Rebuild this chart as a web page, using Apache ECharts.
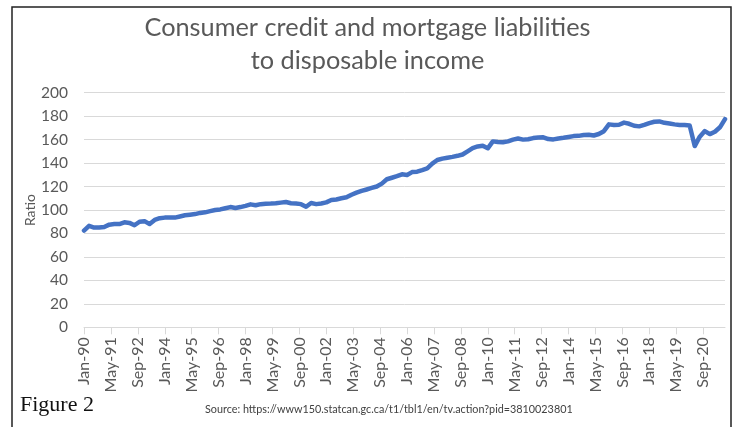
<!DOCTYPE html>
<html>
<head>
<meta charset="utf-8">
<script src="https://cdn.jsdelivr.net/npm/echarts@6/dist/echarts.min.js"></script>
<style>
html,body{margin:0;padding:0;background:#fff;}
#chart{width:735px;height:427px;}
</style>
</head>
<body>
<div id="chart"></div>
<script>
// Quarterly ratio, 1990Q1 .. 2021Q4
const ratio = [
  82.5, 86.5, 85, 85, 85.5, 87.5, 88, 88, 89.5, 89,
  87, 90, 90.5, 88, 91.5, 93, 93.5, 93.5, 93.5, 94.5,
  95.5, 96, 96.5, 97.5, 98, 99, 100, 100.5, 101.5, 102.5,
  101.7, 102.5, 103.5, 104.8, 104, 105, 105.4, 105.5, 105.7, 106.3,
  106.8, 105.8, 105.5, 105, 102.8, 106, 105, 105.5, 106.5, 108.5,
  109, 110, 110.8, 113, 114.8, 116.3, 117.5, 118.8, 120, 122.5,
  126.2, 127.5, 128.8, 130.4, 129.8, 132.3, 132.7, 134, 135.5, 139.5,
  142.6, 143.8, 144.6, 145.3, 146.2, 147.3, 150, 152.8, 154.2, 154.8,
  152.6, 158.5, 158, 157.7, 158.5, 160, 161, 160, 160.3, 161.3,
  161.8, 162, 160.5, 160.2, 161, 161.6, 162.3, 163, 163.2, 164,
  164.2, 163.5, 164.8, 167.2, 173, 172.5, 172.7, 174.5, 173.5, 171.8,
  171.3, 172.5, 174, 175.2, 175.5, 174.3, 173.8, 173, 172.5, 172.4,
  172, 154.5, 162.5, 167.3, 164.7, 166.7, 170.5, 177.5
];
const monthNames = ['Jan','Feb','Mar','Apr','May','Jun','Jul','Aug','Sep','Oct','Nov','Dec'];
const startYear = 1990;
const yTicks = [0, 20, 40, 60, 80, 100, 120, 140, 160, 180, 200];

// monthly date axis (Jan-90 .. Oct-21), quarterly points on it
const nMonths = (ratio.length - 1) * 3 + 1;
const months = [];
for (let k = 0; k < nMonths; k++) {
  const y = startYear + Math.floor(k / 12);
  months.push(monthNames[k % 12] + '-' + String(y % 100).padStart(2, '0'));
}
const seriesData = ratio.map((v, i) => [i * 3, v]);

const chart = echarts.init(document.getElementById('chart'), null, {renderer: 'canvas'});
const FONT = 'Lato';
chart.setOption({
  animation: false,
  backgroundColor: '#fff',
  title: {
    text: 'Consumer credit and mortgage liabilities\nto disposable income',
    left: 'center',
    top: 6,
    textStyle: {
      fontFamily: FONT, fontSize: 25.3, fontWeight: 'normal', color: '#595959', lineHeight: 33
    }
  },
  grid: {left: 84, right: 10, top: 92.7, bottom: 99.7, containLabel: false},
  xAxis: {
    type: 'category',
    data: months,
    boundaryGap: false,
    axisLine: {lineStyle: {color: '#d9d9d9', width: 1}},
    axisTick: {show: true, interval: 15, length: 7, lineStyle: {color: '#d9d9d9'}},
    axisLabel: {interval: 15, rotate: 90, fontFamily: FONT, fontSize: 16, color: '#595959', margin: 10},
    splitLine: {show: false}
  },
  yAxis: {
    type: 'value',
    min: yTicks[0],
    max: yTicks[yTicks.length - 1],
    interval: yTicks[1] - yTicks[0],
    axisLine: {show: false},
    axisTick: {show: false},
    axisLabel: {fontFamily: FONT, fontSize: 15.5, color: '#595959', margin: 16},
    splitLine: {lineStyle: {color: '#d9d9d9', width: 1}}
  },
  series: [{
    type: 'line',
    data: seriesData,
    showSymbol: false,
    symbol: 'none',
    lineStyle: {color: '#4472C4', width: 4.5, join: 'round', cap: 'round'},
    itemStyle: {color: '#4472C4'}
  }],
  graphic: [
    {
      type: 'polyline',
      shape: {points: [[12, 427], [12, 7], [731, 7], [731, 427]]},
      style: {stroke: '#222', lineWidth: 1.5, fill: null},
      silent: true
    },
    {
      type: 'text', x: 30, y: 210, rotation: Math.PI / 2,
      style: {text: 'Ratio', font: '14px Lato', fill: '#595959', align: 'center', verticalAlign: 'middle'}
    },
    {
      type: 'text', left: 20, top: 394,
      style: {text: 'Figure 2', font: '22px "Liberation Serif"', fill: '#111'}
    },
    {
      type: 'text', left: 205, top: 404,
      style: {text: 'Source: https://www150.statcan.gc.ca/t1/tbl1/en/tv.action?pid=3810023801', font: '10.8px Lato', fill: '#404040'}
    }
  ]
});
</script>
</body>
</html>
